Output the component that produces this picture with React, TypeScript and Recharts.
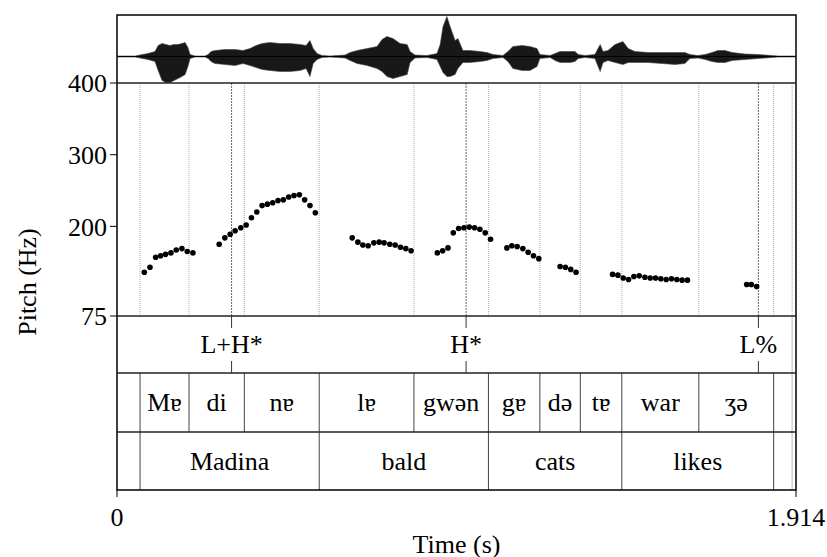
import React from 'react';
import { AreaChart, Area, ScatterChart, Scatter, XAxis, YAxis, ReferenceLine } from 'recharts';

const DURATION = 1.914;
const TEXTGRID_END = 1.903;
const FONT = "'Liberation Serif', 'Times New Roman', serif";

// pitch track: time (s) and F0 (Hz)
const pitchTimes = [
  0.077, 0.093, 0.109, 0.123, 0.137, 0.152, 0.167, 0.183, 0.198, 0.214,
  0.288, 0.304, 0.319, 0.333, 0.349, 0.364, 0.379, 0.394, 0.409, 0.424,
  0.439, 0.454, 0.469, 0.484, 0.499, 0.514, 0.529, 0.544, 0.559,
  0.663, 0.679, 0.693, 0.708, 0.724, 0.739, 0.753, 0.769, 0.784, 0.799, 0.814, 0.829,
  0.903, 0.918, 0.933, 0.948, 0.963, 0.978, 0.993, 1.008, 1.023, 1.038, 1.053,
  1.099, 1.113, 1.128, 1.144, 1.159, 1.174, 1.189,
  1.249, 1.264, 1.279, 1.294,
  1.397, 1.412, 1.427, 1.442, 1.457, 1.472, 1.488, 1.503, 1.518, 1.533, 1.548, 1.563, 1.578, 1.593, 1.608,
  1.775, 1.788, 1.803,
];
const pitchHz = [
  136, 143, 157, 159, 161, 163, 167, 169, 165, 163,
  175, 184, 189, 194, 198, 202, 212, 220, 229, 231,
  233, 236, 237, 241, 243, 244, 237, 229, 219,
  184, 178, 174, 173, 177, 178, 177, 175, 174, 171, 169, 166,
  163, 166, 170, 191, 197, 198, 199, 198, 196, 191, 182,
  170, 173, 172, 169, 164, 159, 155,
  144, 143, 140, 136,
  133, 132, 128, 126, 130, 131, 129, 128, 128, 127, 126, 127, 126, 125, 125,
  119, 119, 116,
];

// waveform envelope (arbitrary amplitude units)
const waveTimes = [
  0, 0.051, 0.065, 0.087, 0.107, 0.116, 0.127, 0.138, 0.149, 0.161, 0.172, 0.183, 0.192, 0.2, 0.206,
  0.22, 0.248, 0.257, 0.265, 0.276, 0.304, 0.333, 0.355, 0.375, 0.392, 0.409, 0.431, 0.46, 0.488,
  0.516, 0.533, 0.544, 0.553, 0.564, 0.578, 0.6, 0.643, 0.657, 0.677, 0.705, 0.733, 0.747, 0.761,
  0.778, 0.798, 0.818, 0.826, 0.84, 0.874, 0.902, 0.911, 0.919, 0.93, 0.939, 0.953, 0.961, 0.975,
  0.995, 1.023, 1.043, 1.06, 1.088, 1.102, 1.116, 1.142, 1.164, 1.184, 1.192, 1.221, 1.235, 1.249,
  1.277, 1.291, 1.3, 1.319, 1.347, 1.362, 1.37, 1.384, 1.404, 1.426, 1.441, 1.46, 1.497, 1.536,
  1.573, 1.601, 1.615, 1.638, 1.658, 1.677, 1.694, 1.714, 1.734, 1.77, 1.807, 1.846, 1.863, 1.914,
];
const waveUpper = [
  0.5, 0.5, 1.5, 3, 5, 11, 13, 12, 11, 12, 12, 13, 14, 9, 2,
  0.5, 0.5, 2, 5, 6, 7, 7, 6, 8, 11, 13, 14, 13, 13,
  12, 11, 16, 8, 3, 1, 0.5, 1.5, 4, 6, 8, 10, 17, 20,
  18, 13, 12, 5, 1.5, 1, 3, 12, 30, 40, 30, 16, 18, 6,
  6, 5, 4, 2, 1, 5, 10, 11, 10, 8, 2, 1, 3, 5,
  5, 5, 2, 1, 2, 12, 5, 6, 12, 15, 8, 5, 4, 4,
  4, 4, 2, 1, 2, 4, 6, 6, 4, 2.5, 2, 1, 0.5, 0.5,
];
const waveLower = [
  -0.5, -0.5, -1.5, -3, -5, -14, -24, -26, -26, -24, -22, -20, -18, -10, -2,
  -0.5, -0.5, -2, -5, -7, -8, -9, -7, -9, -11, -13, -14, -15, -15,
  -14, -12, -20, -7, -3, -1, -0.5, -1.5, -4, -7, -9, -12, -15, -20,
  -22, -20, -18, -6, -1.5, -1, -3, -10, -16, -20, -20, -18, -12, -6,
  -6, -5, -4, -2, -1, -5, -12, -14, -14, -10, -2, -1, -4, -6,
  -6, -5, -2, -1, -2, -15, -6, -4, -6, -8, -6, -6, -6, -7,
  -8, -7, -2, -1.5, -3, -5, -6, -6, -4, -3, -2, -1, -0.5, -0.5,
];

const toneLabels = ['L+H*', 'H*', 'L%'];
const toneTimes = [0.323, 0.984, 1.808];

const syllableLabels = ['Mɐ', 'di', 'nɐ', 'lɐ', 'gwən', 'gɐ', 'də', 'tɐ', 'war', 'ʒə'];
const syllableBounds = [0.065, 0.203, 0.359, 0.570, 0.837, 1.047, 1.192, 1.306, 1.423, 1.640, 1.851];

const wordLabels = ['Madina', 'bald', 'cats', 'likes'];
const wordBounds = [0.065, 0.570, 1.047, 1.423, 1.851];

const pitchTicks = [75, 200, 300, 400];
const timeTicks = [0, DURATION];

const pitchData = pitchTimes.map((t, i) => ({ t, hz: pitchHz[i] }));
const waveData = waveTimes.map((t, i) => ({ t, amp: [waveLower[i], waveUpper[i]] }));
const intervals = (labels: string[], bounds: number[]) =>
  labels.map((label, i) => ({ t: (bounds[i] + bounds[i + 1]) / 2, y: 0.5, label }));
const tonePoints = toneLabels.map((label, i) => ({ t: toneTimes[i], y: 0.5, label }));

const LEFT = 117;
const PLOT_W = 679;

const TierText = (props: any) => (
  <text
    x={props.cx}
    y={props.cy}
    textAnchor="middle"
    dominantBaseline="central"
    fontSize={26}
    style={{ fontFamily: FONT }}
    fill="#000"
  >
    {props.payload.label}
  </text>
);

const PitchDot = (props: any) => <circle cx={props.cx} cy={props.cy} r={2.8} fill="#000" />;

const hiddenX = <XAxis type="number" dataKey="t" domain={[0, DURATION]} hide allowDataOverflow />;
const unitY = <YAxis type="number" dataKey="y" domain={[0, 1]} hide allowDataOverflow />;

const App: React.FC = () => {
  return (
    <div style={{ position: 'absolute', left: 0, top: 0, width: 827, height: 557, overflow: 'hidden', background: '#fff' }}>
      {/* waveform */}
      <div style={{ position: 'absolute', left: LEFT, top: 15 }}>
        <AreaChart width={PLOT_W} height={68} data={waveData} margin={{ top: 0, right: 0, bottom: 0, left: 0 }}>
          {hiddenX}
          <YAxis type="number" domain={[-26.5, 41.5]} hide allowDataOverflow />
          <ReferenceLine y={0} stroke="#000" strokeWidth={1} />
          <Area
            type="linear"
            dataKey="amp"
            stroke="#444"
            strokeWidth={0.6}
            fill="#181818"
            fillOpacity={1}
            dot={false}
            activeDot={false}
            isAnimationActive={false}
          />
        </AreaChart>
      </div>

      {/* pitch */}
      <div style={{ position: 'absolute', left: 0, top: 63 }}>
        <ScatterChart width={810} height={273} margin={{ top: 20, right: 14, bottom: 20, left: 0 }}>
          {hiddenX}
          <YAxis
            type="number"
            dataKey="hz"
            domain={[75, 400]}
            ticks={pitchTicks}
            interval={0}
            width={117}
            tickSize={7}
            tickMargin={3}
            axisLine={false}
            tickLine={{ stroke: '#000' }}
            tick={{ fontSize: 26, fill: '#000', style: { fontFamily: FONT } }}
            allowDataOverflow
          />
          {[...syllableBounds, TEXTGRID_END].map((b) => (
            <ReferenceLine key={`b${b}`} x={b} stroke="#aaa" strokeDasharray="1 1" />
          ))}
          {toneTimes.map((b) => (
            <ReferenceLine key={`t${b}`} x={b} stroke="#666" strokeDasharray="2 1" />
          ))}
          <Scatter data={pitchData} fill="#000" shape={PitchDot} isAnimationActive={false} />
        </ScatterChart>
      </div>

      {/* tone tier */}
      <div style={{ position: 'absolute', left: LEFT, top: 316 }}>
        <ScatterChart width={PLOT_W} height={57} margin={{ top: 0, right: 0, bottom: 0, left: 0 }}>
          {hiddenX}
          {unitY}
          <ReferenceLine x={TEXTGRID_END} stroke="#bbb" />
          {toneTimes.map((t) => (
            <ReferenceLine key={`u${t}`} segment={[{ x: t, y: 1 }, { x: t, y: 0.79 }]} stroke="#333" />
          ))}
          {toneTimes.map((t) => (
            <ReferenceLine key={`d${t}`} segment={[{ x: t, y: 0 }, { x: t, y: 0.21 }]} stroke="#333" />
          ))}
          <Scatter data={tonePoints} shape={TierText} isAnimationActive={false} />
        </ScatterChart>
      </div>

      {/* syllable tier */}
      <div style={{ position: 'absolute', left: LEFT, top: 373 }}>
        <ScatterChart width={PLOT_W} height={59} margin={{ top: 0, right: 0, bottom: 0, left: 0 }}>
          {hiddenX}
          {unitY}
          <ReferenceLine x={TEXTGRID_END} stroke="#bbb" />
          {syllableBounds.map((b) => (
            <ReferenceLine key={b} x={b} stroke="#444" />
          ))}
          <Scatter data={intervals(syllableLabels, syllableBounds)} shape={TierText} isAnimationActive={false} />
        </ScatterChart>
      </div>

      {/* word tier + time axis */}
      <div style={{ position: 'absolute', left: LEFT - 60, top: 432 }}>
        <ScatterChart width={PLOT_W + 90} height={124} margin={{ top: 0, right: 30, bottom: 0, left: 60 }}>
          <XAxis
            type="number"
            dataKey="t"
            domain={[0, DURATION]}
            ticks={timeTicks}
            interval={0}
            height={66}
            tickSize={7}
            tickMargin={11}
            axisLine={false}
            tickLine={{ stroke: '#000' }}
            tick={{ fontSize: 26, fill: '#000', style: { fontFamily: FONT } }}
            tickFormatter={(v: number) => (v === 0 ? '0' : v.toFixed(3))}
            allowDataOverflow
          />
          {unitY}
          <ReferenceLine x={TEXTGRID_END} stroke="#bbb" />
          {wordBounds.map((b) => (
            <ReferenceLine key={b} x={b} stroke="#444" />
          ))}
          <Scatter data={intervals(wordLabels, wordBounds)} shape={TierText} isAnimationActive={false} />
        </ScatterChart>
      </div>

      {/* frame, panel separators and axis titles */}
      <svg width={827} height={557} style={{ position: 'absolute', left: 0, top: 0, pointerEvents: 'none' }}>
        <rect x={LEFT} y={15} width={PLOT_W} height={475} fill="none" stroke="#000" strokeWidth={1.5} />
        {[83, 316, 373, 432].map((y) => (
          <line key={y} x1={LEFT} x2={LEFT + PLOT_W} y1={y} y2={y} stroke="#222" strokeWidth={1.3} />
        ))}
        <text
          transform="translate(27 282) rotate(-90)"
          textAnchor="middle"
          dominantBaseline="central"
          fontSize={26}
          style={{ fontFamily: FONT }}
          fill="#000"
        >
          Pitch (Hz)
        </text>
        <text x={456.5} y={544} textAnchor="middle" dominantBaseline="central" fontSize={26} style={{ fontFamily: FONT }} fill="#000">
          Time (s)
        </text>
      </svg>
    </div>
  );
};

export default App;
